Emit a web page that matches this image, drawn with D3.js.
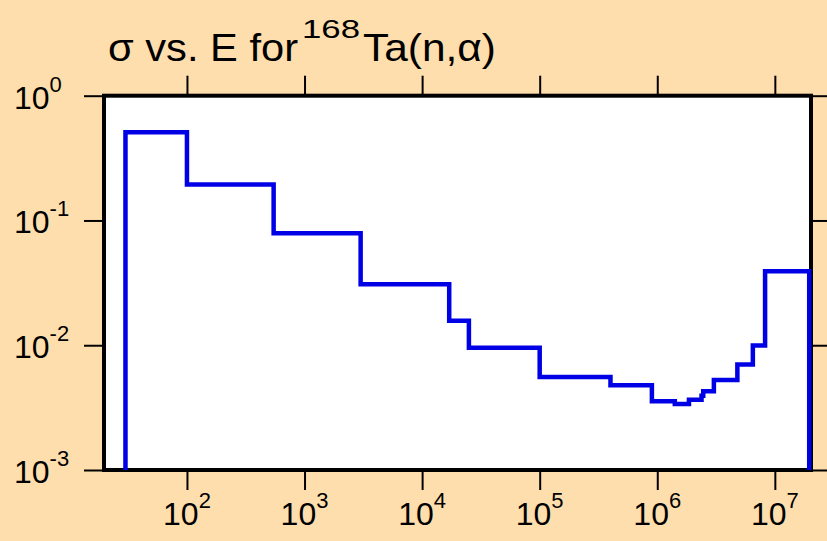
<!DOCTYPE html>
<html>
<head>
<meta charset="utf-8">
<script src="https://cdn.jsdelivr.net/npm/d3@7"></script>
<style>
  html, body { margin: 0; padding: 0; background: #ffdead; }
  svg { display: block; font-family: "Liberation Sans", Arial, sans-serif; }
</style>
</head>
<body>
<div id="ta-alpha-chart"></div>
<script>
// Bin edges (eV) and cross section (b) per bin
const binEdges = [30, 100, 546, 3000, 1.7e4, 2.5e4, 1e5, 4.0e5, 9.0e5, 1.41e6, 1.86e6,
  2.38e6, 2.46e6, 3.03e6, 4.8e6, 6.5e6, 8.26e6, 1.96e7];
const sigmaValues = [0.51, 0.194, 0.0789, 0.0308, 0.0157, 0.00955, 0.00557, 0.00478,
  0.00356, 0.00338, 0.00366, 0.00394, 0.00427, 0.00526, 0.00702, 0.00997, 0.0392];

const xTickExps = [2, 3, 4, 5, 6, 7];
const yTickExps = [0, -1, -2, -3];

(function () {
  const width = 827;
  const height = 541;

  // plot frame in pixels
  const frame = { left: 104, right: 811, top: 95.7, bottom: 470 };

  const svg = d3
    .select("#ta-alpha-chart")
    .append("svg")
    .attr("width", width)
    .attr("height", height);

  svg.append("rect")
    .attr("width", width)
    .attr("height", height)
    .attr("fill", "#ffdead");

  // Scales
  const x = d3.scaleLog().domain([19.7, 2.03e7]).range([frame.left, frame.right]);
  const y = d3.scaleLog().domain([1e-3, 1]).range([frame.bottom, frame.top]);

  const xTicks = xTickExps.map((e) => Math.pow(10, e));
  const yTicks = yTickExps.map((e) => Math.pow(10, e));

  // Axes (ticks point outwards, labels added by hand for superscripts)
  const tickLen = 20;
  const axes = [
    { axis: d3.axisBottom(x).tickValues(xTicks), at: `translate(0,${frame.bottom})` },
    { axis: d3.axisTop(x).tickValues(xTicks), at: `translate(0,${frame.top})` },
    { axis: d3.axisLeft(y).tickValues(yTicks), at: `translate(${frame.left},0)` },
    { axis: d3.axisRight(y).tickValues(yTicks), at: `translate(${frame.right},0)` },
  ];
  axes.forEach((a) => {
    const g = svg.append("g")
      .attr("transform", a.at)
      .call(a.axis.tickSize(tickLen).tickFormat(""));
    g.select(".domain").remove();
    g.selectAll(".tick line").attr("stroke", "#000").attr("stroke-width", 2);
  });

  // X tick labels
  xTickExps.forEach((e) => {
    const t = svg.append("text")
      .attr("x", x(Math.pow(10, e)))
      .attr("y", 525)
      .attr("text-anchor", "middle")
      .attr("font-size", 32)
      .attr("fill", "#000");
    t.append("tspan").text("10");
    t.append("tspan").attr("dy", -17).attr("font-size", 22).text(e);
  });

  // Y tick labels
  yTickExps.forEach((e) => {
    const t = svg.append("text")
      .attr("x", 14)
      .attr("y", y(Math.pow(10, e)) + 13)
      .attr("text-anchor", "start")
      .attr("font-size", 32)
      .attr("fill", "#000");
    t.append("tspan").text("10");
    t.append("tspan").attr("dy", -17).attr("font-size", 22).text(e);
  });

  // Title (the original font runs a bit wider, so stretch each piece)
  const title = svg.append("text")
    .attr("y", 61)
    .attr("font-size", 39)
    .attr("fill", "#000");
  title.append("tspan")
    .attr("x", 108)
    .attr("textLength", 190)
    .attr("lengthAdjust", "spacingAndGlyphs")
    .text("σ vs. E for");
  title.append("tspan")
    .attr("x", 302)
    .attr("dy", -23)
    .attr("font-size", 26)
    .attr("textLength", 58)
    .attr("lengthAdjust", "spacingAndGlyphs")
    .text("168");
  title.append("tspan")
    .attr("x", 363)
    .attr("dy", 23)
    .attr("textLength", 133)
    .attr("lengthAdjust", "spacingAndGlyphs")
    .text("Ta(n,α)");

  // Plot frame
  svg.append("rect")
    .attr("x", frame.left)
    .attr("y", frame.top)
    .attr("width", frame.right - frame.left)
    .attr("height", frame.bottom - frame.top)
    .attr("fill", "#fff")
    .attr("stroke", "#000")
    .attr("stroke-width", 4);

  // Step histogram
  const yFloor = y.domain()[0];
  const last = binEdges[binEdges.length - 1];
  const points = [{ e: binEdges[0], s: yFloor }]
    .concat(sigmaValues.map((s, i) => ({ e: binEdges[i], s: s })))
    .concat([{ e: last, s: sigmaValues[sigmaValues.length - 1] }, { e: last, s: yFloor }]);

  const lineGenerator = d3.line()
    .x((d) => x(d.e))
    .y((d) => y(d.s))
    .curve(d3.curveStepAfter);

  svg.append("path")
    .datum(points)
    .attr("d", lineGenerator)
    .attr("fill", "none")
    .attr("stroke", "#0000e6")
    .attr("stroke-width", 4.5)
    .attr("stroke-linejoin", "miter");
})();
</script>
</body>
</html>
